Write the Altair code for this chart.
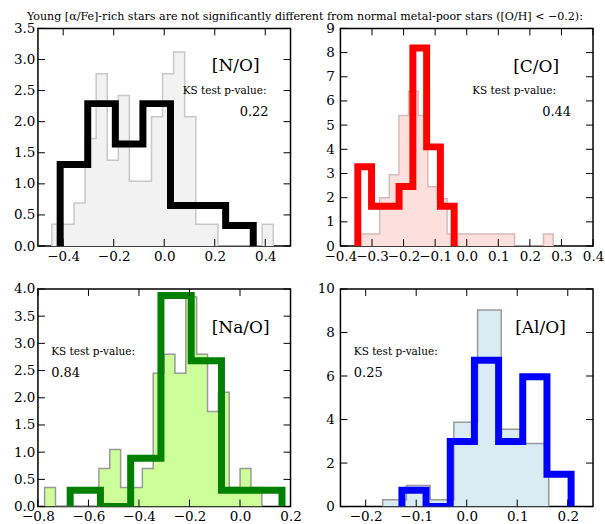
import altair as alt
import pandas as pd

FONT = "DejaVu Serif"
TITLE = "Young [\u03b1/Fe]-rich stars are not significantly different from normal metal-poor stars ([O/H] < \u22120.2):"

# ---- [N/O] ----
NO_fill_edges = [-0.4447, -0.4009, -0.3571, -0.3132, -0.2694, -0.2256, -0.1818, -0.1380, -0.0942, -0.0504,
                 -0.0066, 0.0372, 0.0810, 0.1249, 0.1687, 0.2125, 0.2563, 0.3001, 0.3440, 0.3878, 0.4316]
NO_fill_h = [0.35, 0.35, 0.69, 1.73, 2.77, 1.38, 2.42, 1.04, 1.04, 2.08, 2.77, 3.12, 2.08, 0.35, 0.35, 0, 0, 0, 0, 0.35]
NO_step_edges = [-0.412, -0.3028, -0.1936, -0.0844, 0.0248, 0.134, 0.2432, 0.3524]
NO_step_h = [1.31, 2.29, 1.64, 2.29, 0.65, 0.65, 0.33]

# ---- [C/O] ----
CO_fill_edges = [-0.3368, -0.3063, -0.2758, -0.2452, -0.2147, -0.1842, -0.1537, -0.1232, -0.0926, -0.0621,
                 -0.0316, -0.0011, 0.0294, 0.0599, 0.0904, 0.1210, 0.1515, 0.1820, 0.2125, 0.2431, 0.2736]
CO_fill_h = [0.5, 0.5, 2.0, 2.95, 5.4, 6.4, 5.4, 2.45, 1.95, 0.5, 0.5, 0.5, 0.5, 0.5, 0.5, 0.5, 0, 0, 0, 0.5]
CO_step_edges = [-0.345, -0.3014, -0.2578, -0.2142, -0.1706, -0.127, -0.0834, -0.0398]
CO_step_h = [3.28, 1.64, 1.64, 2.46, 8.19, 4.10, 1.64]

# ---- [Na/O] ----
NaO_fill_edges = [-0.7736, -0.7306, -0.6876, -0.6446, -0.6016, -0.5586, -0.5156, -0.4726, -0.4296, -0.3866,
                  -0.3436, -0.3006, -0.2576, -0.2146, -0.1716, -0.1286, -0.0856, -0.0426, 0.0004, 0.0434, 0.0864]
NaO_fill_h = [0.35, 0, 0, 0, 0, 0.7, 1.05, 0.35, 0.35, 0.7, 2.45, 2.8, 2.45, 3.85, 2.8, 1.75, 2.1, 0.35, 0.7, 0.35]
NaO_step_edges = [-0.6724, -0.5526, -0.4328, -0.313, -0.1932, -0.0734, 0.0464, 0.1662]
NaO_step_h = [0.30, 0, 0.89, 3.88, 2.68, 0.30, 0.30]

# ---- [Al/O] ----
AlO_fill_edges = [-0.1664, -0.1194, -0.0725, -0.0255, 0.0215, 0.0684, 0.1154, 0.1624]
AlO_fill_h = [0.32, 0.97, 0.32, 3.87, 9.03, 3.55, 2.90]
AlO_step_edges = [-0.1283, -0.0805, -0.0326, 0.0152, 0.0631, 0.1109, 0.1588, 0.2066]
AlO_step_h = [0.75, 0, 2.99, 6.72, 2.99, 5.97, 1.49]

W, H = 253, 218
TICK = 7
LSIZE = 13.5


def panel(fe, fh, se, sh, fill, edge, line, xdom, ydom, xt, yt, xfmt, yfmt, ypad,
          label, label_pos, ks_pos, pv, ks_align, title=False):
    def xenc():
        return alt.X("x:Q", scale=alt.Scale(domain=xdom, nice=False, zero=False),
                     axis=alt.Axis(values=xt, format=xfmt, title=None, grid=False, ticks=False,
                                   domain=False, labelFont=FONT, labelFontSize=LSIZE, labelColor="black",
                                   labelPadding=3, labelFlush=False, labelOverlap=False))

    def yenc():
        return alt.Y("y:Q", scale=alt.Scale(domain=ydom, nice=False, zero=True),
                     axis=alt.Axis(values=yt, format=yfmt, title=None, grid=False, ticks=False,
                                   domain=False, labelFont=FONT, labelFontSize=LSIZE, labelColor="black",
                                   labelPadding=ypad, labelFlush=False, labelOverlap=False),
                     stack=None)

    fill_df = pd.DataFrame({"x": fe, "y": fh + [fh[-1]]})
    outline_df = pd.DataFrame({"x": [fe[0]] + fe, "y": [0] + fh + [0]})
    outline_df["i"] = range(len(outline_df))
    step_df = pd.DataFrame({"x": [se[0]] + se, "y": [0] + sh + [0]})
    step_df["i"] = range(len(step_df))
    xt_df = pd.DataFrame({"x": xt})
    yt_df = pd.DataFrame({"y": yt})

    area = alt.Chart(fill_df).mark_area(interpolate="step-after", color=fill, opacity=1, clip=True).encode(
        x=xenc(), y=yenc())
    outline = alt.Chart(outline_df).mark_line(interpolate="step-after", color=edge, strokeWidth=1.5,
                                              clip=True).encode(x=xenc(), y=yenc(), order="i:Q")
    step = alt.Chart(step_df).mark_line(interpolate="step-after", color=line, strokeWidth=7,
                                        strokeJoin="miter", strokeCap="butt", clip=True).encode(
        x=xenc(), y=yenc(), order="i:Q")
    xt_top = alt.Chart(xt_df).mark_rule(color="black", strokeWidth=1).encode(
        x=xenc(), y=alt.value(0), y2=alt.value(TICK))
    xt_bot = alt.Chart(xt_df).mark_rule(color="black", strokeWidth=1).encode(
        x=xenc(), y=alt.value(H), y2=alt.value(H - TICK))
    yt_left = alt.Chart(yt_df).mark_rule(color="black", strokeWidth=1).encode(
        y=yenc(), x=alt.value(0), x2=alt.value(TICK))
    yt_right = alt.Chart(yt_df).mark_rule(color="black", strokeWidth=1).encode(
        y=yenc(), x=alt.value(W), x2=alt.value(W - TICK))

    lab = alt.Chart(pd.DataFrame({"t": [label]})).mark_text(
        font=FONT, fontSize=17, align="right", baseline="alphabetic", color="black").encode(
        text="t:N", x=alt.value(label_pos[0]), y=alt.value(label_pos[1]))
    ks = alt.Chart(pd.DataFrame({"t": ["KS test p-value:"]})).mark_text(
        font=FONT, fontSize=10.5, align=ks_align, baseline="alphabetic", color="black").encode(
        text="t:N", x=alt.value(ks_pos[0]), y=alt.value(ks_pos[1]))
    pvt = alt.Chart(pd.DataFrame({"t": [pv[0]]})).mark_text(
        font=FONT, fontSize=13, align=ks_align, baseline="alphabetic", color="black").encode(
        text="t:N", x=alt.value(pv[1]), y=alt.value(pv[2]))

    layers = [area, outline, step, xt_top, xt_bot, yt_left, yt_right, lab, ks, pvt]
    if title:
        tt = alt.Chart(pd.DataFrame({"t": [TITLE]})).mark_text(
            font=FONT, fontSize=11.1, align="left", baseline="alphabetic", color="black").encode(
            text="t:N", x=alt.value(-11), y=alt.value(-8.3))
        layers.append(tt)
    return alt.layer(*layers).properties(width=W, height=H)


p1 = panel(NO_fill_edges, NO_fill_h, NO_step_edges, NO_step_h, "#f2f2f2", "#c8c8c8", "black",
           [-0.5, 0.5], [0, 3.5], [-0.4, -0.2, 0.0, 0.2, 0.4], [0, 0.5, 1, 1.5, 2, 2.5, 3, 3.5],
           ".1f", ".1f", 3, "[N/O]", (222, 42.7), (229, 66), ("0.22", 231, 87.7), "right", title=True)
p2 = panel(CO_fill_edges, CO_fill_h, CO_step_edges, CO_step_h, "#fde0dc", "#d4bcbc", "#ff0000",
           [-0.4, 0.4], [0, 9], [-0.4, -0.3, -0.2, -0.1, 0.0, 0.1, 0.2, 0.3, 0.4], list(range(0, 10)),
           ".1f", "d", 6, "[C/O]", (219, 43.5), (216, 66), ("0.44", 231, 88), "right")
p3 = panel(NaO_fill_edges, NaO_fill_h, NaO_step_edges, NaO_step_h, "#ccff99", "#999999", "#008000",
           [-0.8, 0.2], [0, 4], [-0.8, -0.6, -0.4, -0.2, 0.0, 0.2], [0, 0.5, 1, 1.5, 2, 2.5, 3, 3.5, 4],
           ".1f", ".1f", 3, "[Na/O]", (232, 44.3), (13.3, 66), ("0.84", 13.3, 87.7), "left")
p4 = panel(AlO_fill_edges, AlO_fill_h, AlO_step_edges, AlO_step_h, "#d9ecf3", "#999999", "#0000ff",
           [-0.25, 0.25], [0, 10], [-0.2, -0.1, 0.0, 0.1, 0.2], [0, 2, 4, 6, 8, 10],
           ".1f", "d", 6, "[Al/O]", (225.7, 44.3), (13.4, 66), ("0.25", 13.4, 87.7), "left")

chart = alt.concat(p1, p2, p3, p4, columns=2, bounds="flush",
                   spacing={"row": 43, "column": 50}).properties(
    padding={"left": 12, "top": 9, "right": 0, "bottom": 0},
    background="white",
).configure_view(stroke="black", strokeWidth=1.5)

chart.save("out.html", embed_options={"renderer": "svg", "actions": False})
